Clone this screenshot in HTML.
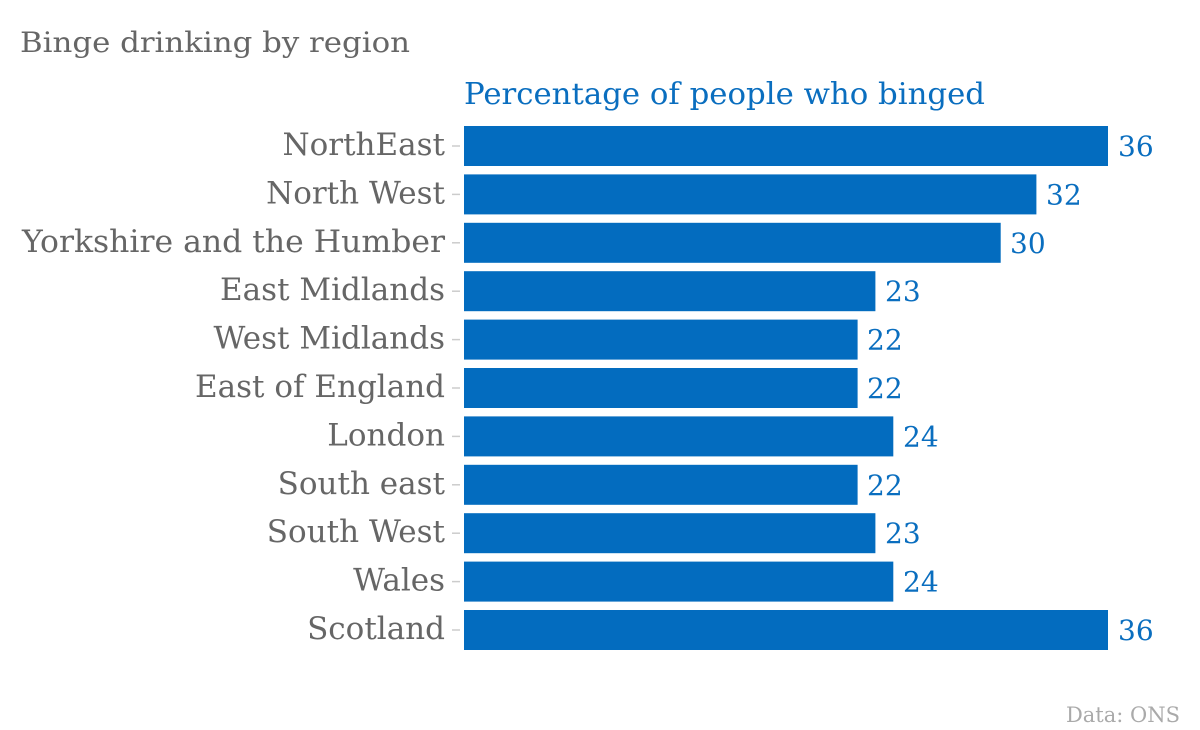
<!DOCTYPE html>
<html><head><meta charset="utf-8"><style>
html,body{margin:0;padding:0;background:#fff;}
svg{display:block;}
text{font-family:"DejaVu Serif","Liberation Serif",serif;}
</style></head><body>
<svg width="1200" height="730" viewBox="0 0 1200 730" xmlns="http://www.w3.org/2000/svg">
<text x="20" y="52" font-size="28" fill="#666" textLength="390" lengthAdjust="spacingAndGlyphs">Binge drinking by region</text>
<text x="464" y="104" font-size="30" fill="#0a6ebf" textLength="521" lengthAdjust="spacingAndGlyphs">Percentage of people who binged</text>
<g fill="#036cbf">
<rect x="464" y="126" width="644" height="40"/>
<rect x="464" y="174.4" width="572.4" height="40"/>
<rect x="464" y="222.8" width="536.7" height="40"/>
<rect x="464" y="271.2" width="411.4" height="40"/>
<rect x="464" y="319.6" width="393.6" height="40"/>
<rect x="464" y="368" width="393.6" height="40"/>
<rect x="464" y="416.4" width="429.3" height="40"/>
<rect x="464" y="464.8" width="393.6" height="40"/>
<rect x="464" y="513.2" width="411.4" height="40"/>
<rect x="464" y="561.6" width="429.3" height="40"/>
<rect x="464" y="610" width="644" height="40"/>
</g>
<g stroke="#ccc" stroke-width="1.5">
<line x1="452" x2="460" y1="146" y2="146"/><line x1="452" x2="460" y1="194.4" y2="194.4"/>
<line x1="452" x2="460" y1="242.8" y2="242.8"/><line x1="452" x2="460" y1="291.2" y2="291.2"/>
<line x1="452" x2="460" y1="339.6" y2="339.6"/><line x1="452" x2="460" y1="388" y2="388"/>
<line x1="452" x2="460" y1="436.4" y2="436.4"/><line x1="452" x2="460" y1="484.8" y2="484.8"/>
<line x1="452" x2="460" y1="533.2" y2="533.2"/><line x1="452" x2="460" y1="581.6" y2="581.6"/>
<line x1="452" x2="460" y1="630" y2="630"/>
</g>
<g font-size="31" fill="#666" text-anchor="end">
<text x="445" y="155">NorthEast</text>
<text x="445" y="203.4">North West</text>
<text x="445" y="251.8" textLength="423" lengthAdjust="spacingAndGlyphs">Yorkshire and the Humber</text>
<text x="445" y="300.2">East Midlands</text>
<text x="445" y="348.6">West Midlands</text>
<text x="445" y="397">East of England</text>
<text x="445" y="445.4">London</text>
<text x="445" y="493.8">South east</text>
<text x="445" y="542.2">South West</text>
<text x="445" y="590.6">Wales</text>
<text x="445" y="639">Scotland</text>
</g>
<g font-size="28" fill="#0a6ebf">
<text x="1118" y="156">36</text>
<text x="1046" y="204.4">32</text>
<text x="1010" y="252.8">30</text>
<text x="885" y="301.2">23</text>
<text x="867" y="349.6">22</text>
<text x="867" y="398">22</text>
<text x="903" y="446.4">24</text>
<text x="867" y="494.8">22</text>
<text x="885" y="543.2">23</text>
<text x="903" y="591.6">24</text>
<text x="1118" y="640">36</text>
</g>
<text x="1180" y="722" font-size="21" fill="#aaa" text-anchor="end">Data: ONS</text>
</svg>
</body></html>
